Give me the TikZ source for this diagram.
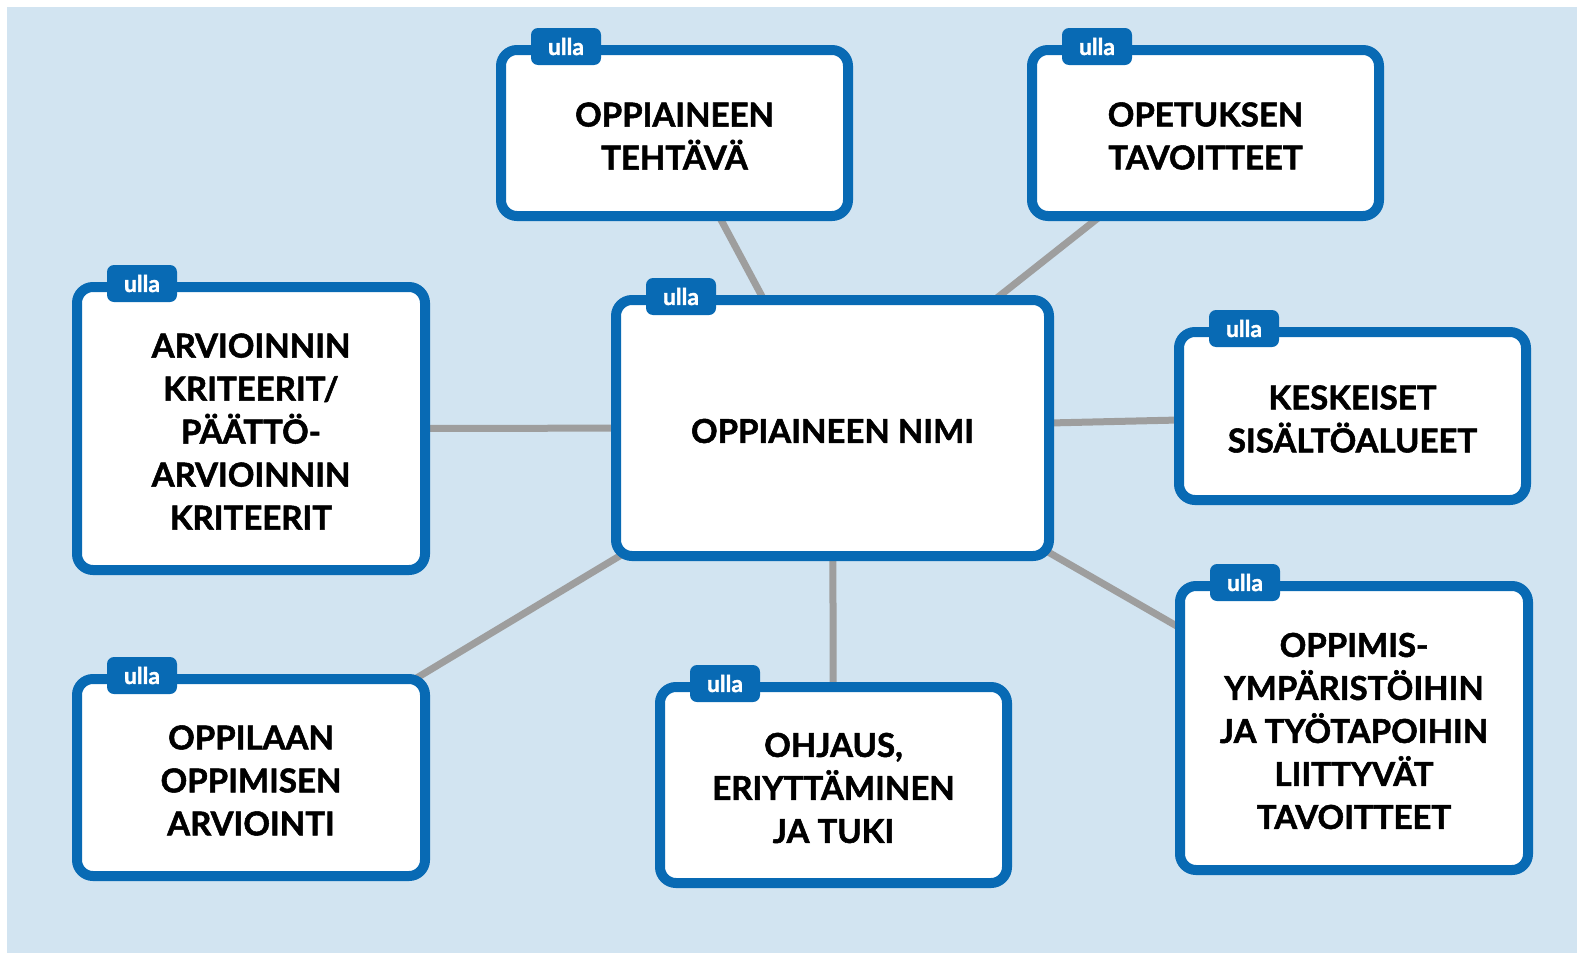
\documentclass[tikz,border=0pt]{standalone}
\usepackage{fontspec}
\setmainfont{Lato}[BoldFeatures={FakeBold=1.6}]
\usetikzlibrary{backgrounds}
\definecolor{bgblue}{RGB}{210,228,241}
\definecolor{boxblue}{RGB}{8,106,180}
\definecolor{linegrey}{RGB}{158,158,158}
\begin{document}
\begin{tikzpicture}[x=1pt,y=-1pt,
 box/.style={draw=boxblue, line width=10pt, fill=white, rounded corners=16pt, inner sep=0pt},
 txt/.style={align=center, font=\fontsize{33}{43}\selectfont\bfseries, inner sep=0pt},
 tab/.style={fill=boxblue, rounded corners=7pt, minimum width=70pt, minimum height=37pt,
   text=white, font=\fontsize{23}{23}\selectfont\bfseries, inner sep=0pt},
 conn/.style={draw=linegrey, line width=7pt}]
\useasboundingbox (0,0) rectangle (1577,953);

\node[box, minimum width=347pt, minimum height=166pt] (teh) at (674.5,133) {};
\node[box, minimum width=347pt, minimum height=166pt] (tav) at (1205.5,133) {};
\node[box, minimum width=348pt, minimum height=283pt] (arv) at (251,428.5) {};
\node[box, minimum width=433pt, minimum height=256pt] (c) at (832.5,428) {};
\node[box, minimum width=347pt, minimum height=168pt] (kes) at (1352.5,416) {};
\node[box, minimum width=348pt, minimum height=197pt] (opl) at (251,777.5) {};
\node[box, minimum width=347pt, minimum height=196pt] (ohj) at (833.5,785) {};
\node[box, minimum width=348pt, minimum height=284pt] (ymp) at (1354,728) {};

\node[txt] (teh-t) at ([yshift=-3pt]teh.center) {OPPIAINEEN\\TEHTÄVÄ};
\node[txt] (tav-t) at ([yshift=-3pt]tav.center) {OPETUKSEN\\TAVOITTEET};
\node[txt] (arv-t) at ([yshift=-3pt]arv.center) {ARVIOINNIN\\KRITEERIT/\\PÄÄTTÖ-\\ARVIOINNIN\\KRITEERIT};
\node[txt] (c-t) at ([yshift=-3pt]c.center) {OPPIAINEEN NIMI};
\node[txt] (kes-t) at ([yshift=-3pt]kes.center) {KESKEISET\\SISÄLTÖALUEET};
\node[txt] (opl-t) at ([yshift=-3pt]opl.center) {OPPILAAN\\OPPIMISEN\\ARVIOINTI};
\node[txt] (ohj-t) at ([yshift=-3pt]ohj.center) {OHJAUS,\\ERIYTTÄMINEN\\JA TUKI};
\node[txt] (ymp-t) at ([yshift=-3pt]ymp.center) {OPPIMIS-\\YMPÄRISTÖIHIN\\JA TYÖTAPOIHIN\\LIITTYVÄT\\TAVOITTEET};

\foreach \n in {teh,tav,arv,c,kes,opl,ohj,ymp}{
  \node[tab] (tab-\n) at ([xshift=70pt,yshift=-1.5pt]\n.north west) {ulla};
}

\begin{pgfonlayer}{background}
\fill[white] (0,0) rectangle (1577,953);
\fill[bgblue] (7,7) rectangle (1577,953);
\draw[conn] (c.center) -- (teh.center);
\draw[conn] (c.center) -- (tav.center);
\draw[conn] (c.center) -- (arv.center);
\draw[conn] (c.center) -- (kes.center);
\draw[conn] (c.center) -- (opl.center);
\draw[conn] (c.center) -- (ohj.center);
\draw[conn] (c.center) -- (ymp.center);
\end{pgfonlayer}
\end{tikzpicture}
\end{document}
